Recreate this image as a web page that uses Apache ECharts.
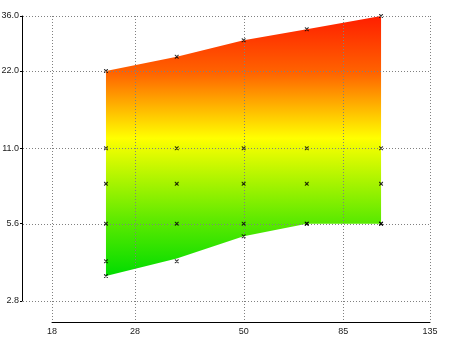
<!DOCTYPE html>
<html>
<head>
<meta charset="utf-8">
<script src="https://cdn.jsdelivr.net/npm/echarts@6/dist/echarts.min.js"></script>
<style>html,body{margin:0;padding:0;background:#fff;}#c{width:450px;height:337px;}</style>
</head>
<body>
<div id="c"></div>
<script>
// Data
var xValues = [24, 35, 50, 70, 104];
var upper = [22, 25, 29, 32, 36];
var lower = [3.5, 4.1, 5.0, 5.6, 5.6];
var level11 = [11, 11, 11, 11, 11];
var level8 = [8, 8, 8, 8, 8];
var level56 = [5.6, 5.6, 5.6, 5.6, 5.6];
var lowMarkX = [24, 35, 50, 70, 104];
var lowMarkY = [3.5, 4.0, 5.0, 5.6, 5.6];
var extraX = [24];
var extraY = [4.0];
var xTicks = [18, 28, 50, 85, 135];
var yTicks = [2.8, 5.6, 11.0, 22.0, 36.0];

function pairs(xs, ys) { return xs.map(function (x, i) { return [x, ys[i]]; }); }

var markerPath = 'path://M0 0H1L5 4V5H4L0 1Z M4 0H5V1L1 5H0V4Z';
var markerPts = [].concat(
  pairs(xValues, upper), pairs(xValues, level11), pairs(xValues, level8),
  pairs(xValues, level56), pairs(lowMarkX, lowMarkY), pairs(extraX, extraY)
);

var chart = echarts.init(document.getElementById('c'), null, {renderer: 'canvas'});
var labelFont = {color: '#1a1a1a', fontSize: 9, fontFamily: '"Liberation Sans", Arial, sans-serif'};
var bandFill = new echarts.graphic.LinearGradient(0, 0, 0, 1, [
  {offset: 0, color: '#ff1e00'},
  {offset: 0.22, color: '#ff6400'},
  {offset: 0.47, color: '#ffff00'},
  {offset: 0.78, color: '#60ea00'},
  {offset: 1, color: '#00dc00'}
]);
var option = {
  animation: false,
  grid: {left: 52, right: 20, top: 16, bottom: 36, containLabel: false, outerBoundsMode: 'none'},
  xAxis: {
    type: 'log', logBase: 10, min: xTicks[0], max: xTicks[xTicks.length - 1],
    offset: 21,
    axisLine: {show: true, lineStyle: {color: '#000', width: 1}},
    axisTick: {show: false, customValues: xTicks},
    axisLabel: Object.assign({customValues: xTicks, margin: 5, formatter: function (v) { return String(Math.round(v)); }}, labelFont),
    splitLine: {show: false}
  },
  yAxis: {
    type: 'log', logBase: 10, min: yTicks[0], max: yTicks[yTicks.length - 1],
    offset: 30,
    axisLine: {show: true, lineStyle: {color: '#000', width: 1}},
    axisTick: {show: true, length: 2, customValues: yTicks, lineStyle: {color: '#000'}},
    axisLabel: Object.assign({customValues: yTicks, margin: 3, formatter: function (v) { return Number(v).toFixed(1); }}, labelFont),
    splitLine: {show: false}
  },
  series: [
    {
      type: 'custom', silent: true, z: 1,
      data: [[xValues[0], upper[0]]],
      renderItem: function (params, api) {
        var pts = [];
        for (var i = 0; i < xValues.length; i++) pts.push(api.coord([xValues[i], upper[i]]));
        for (var j = xValues.length - 1; j >= 0; j--) pts.push(api.coord([xValues[j], lower[j]]));
        return {type: 'polygon', shape: {points: pts}, style: {fill: bandFill, stroke: null}};
      }
    },
    {
      type: 'scatter', data: markerPts, symbol: markerPath, symbolSize: 4,
      itemStyle: {color: '#000'}, z: 10, silent: true
    }
  ]
};
chart.setOption(option);

// Dotted grid lines extended to the offset axes
var yOff = option.yAxis.offset, xOff = option.xAxis.offset;
var xLeft = chart.convertToPixel({xAxisIndex: 0}, xTicks[0]) - yOff;
var xRight = chart.convertToPixel({xAxisIndex: 0}, xTicks[xTicks.length - 1]);
var yTop = chart.convertToPixel({yAxisIndex: 0}, yTicks[yTicks.length - 1]);
var yBottom = chart.convertToPixel({yAxisIndex: 0}, yTicks[0]) + xOff;
var els = [];
var gs = {stroke: '#808080', lineWidth: 1, lineDash: [1, 2]};
yTicks.forEach(function (v) {
  var y = Math.round(chart.convertToPixel({yAxisIndex: 0}, v)) + 0.5;
  els.push({type: 'line', z: 5, silent: true, shape: {x1: Math.round(xLeft) + 1, y1: y, x2: Math.round(xRight), y2: y}, style: gs});
});
xTicks.forEach(function (v) {
  var x = Math.round(chart.convertToPixel({xAxisIndex: 0}, v)) + 0.5;
  els.push({type: 'line', z: 5, silent: true, shape: {x1: x, y1: Math.round(yTop), x2: x, y2: Math.round(yBottom)}, style: gs});
});
chart.setOption({graphic: {elements: els}});
</script>
</body>
</html>
